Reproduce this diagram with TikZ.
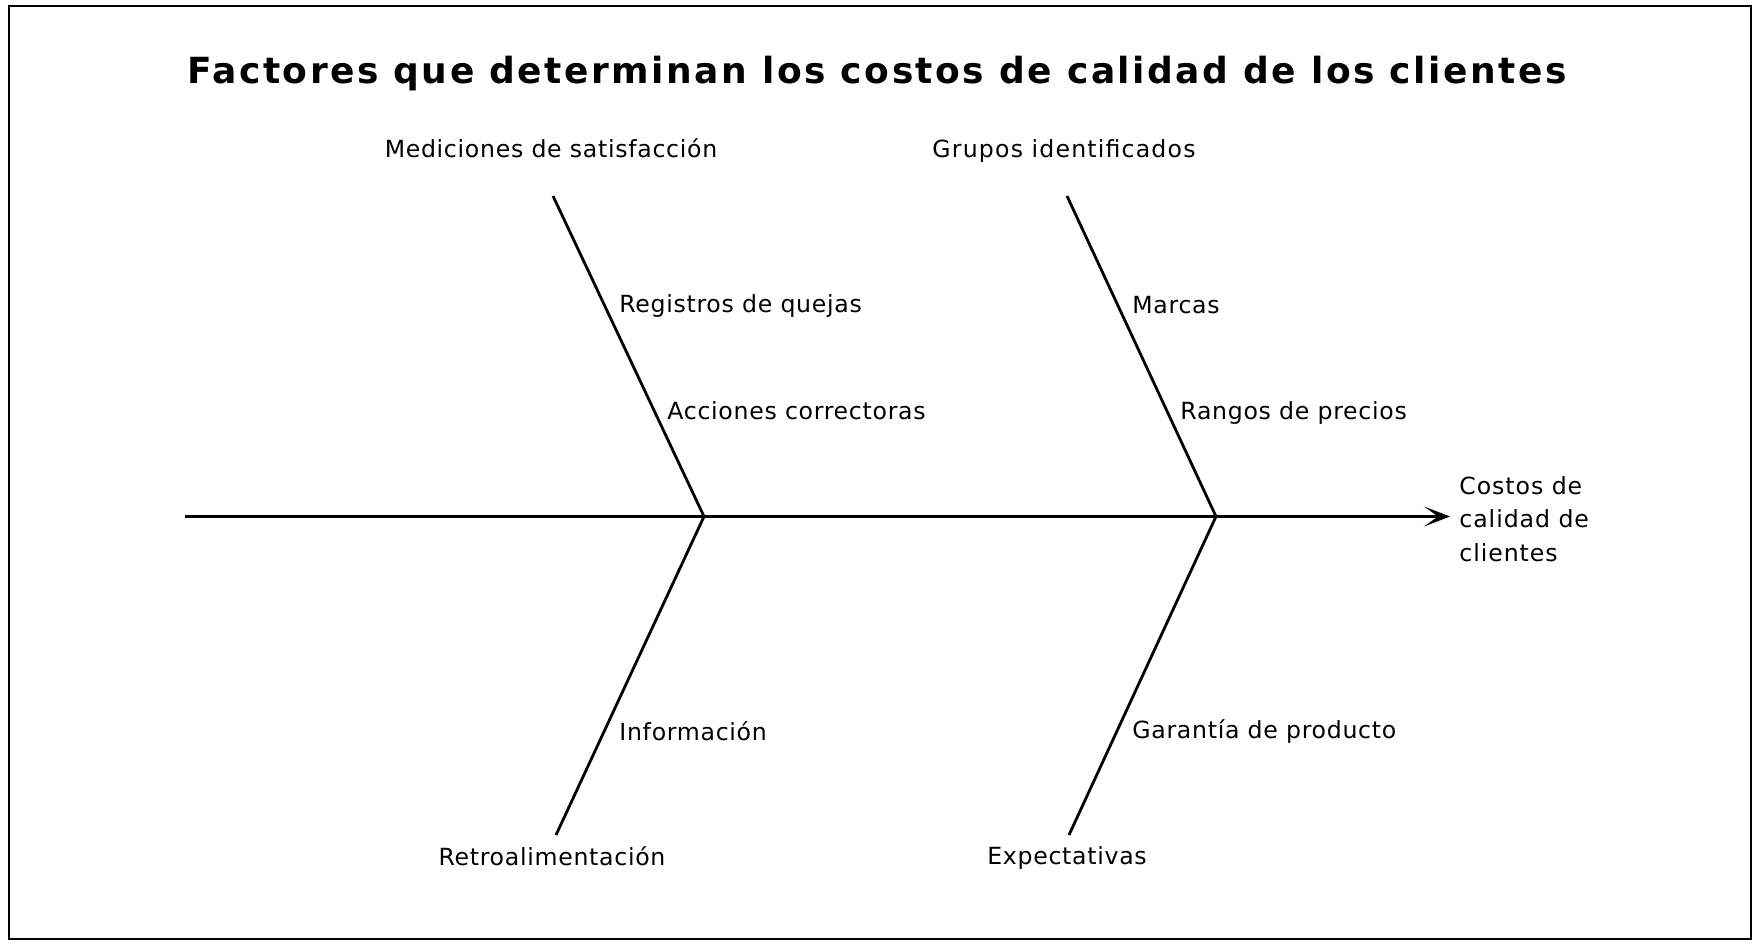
\documentclass[tikz,border=0pt]{standalone}
\usepackage{fontspec}
\setmainfont{DejaVu Sans}
\usetikzlibrary{arrows.meta}
\tikzset{
  bone/.style={line width=1.4pt, black},
  spine/.style={line width=1.1pt, black, -{Stealth[length=13pt,width=10pt,inset=7pt]}},
  lbl/.style={font=\fontsize{11.8}{14}\selectfont\addfontfeature{LetterSpace=3}, inner sep=0pt},
  ttl/.style={font=\fontsize{18}{21}\bfseries\selectfont\addfontfeature{LetterSpace=7}, inner sep=0pt}
}
\begin{document}
\begin{tikzpicture}[x=0.5pt,y=-0.5pt]
\useasboundingbox[fill=white] (0,0) rectangle (1757,945);
\draw[line width=1pt] (9,6) rectangle (1751,939);
\node[ttl] (title) at (877,74) {Factores que determinan los costos de calidad de los clientes};
% coordinates
\coordinate (s0) at (185,516.5);
\coordinate (j1) at (704,516.5);
\coordinate (j2) at (1216,516.5);
\coordinate (u1) at (553,196);
\coordinate (u2) at (1067,196);
\coordinate (d1) at (556,835);
\coordinate (d2) at (1069,835);
\node[lbl, anchor=west, align=left, font=\fontsize{11.8}{16.8}\selectfont\addfontfeature{LetterSpace=4}] (eff) at (1459,519) {Costos de\\calidad de\\clientes};
\draw[spine, shorten >=4.5pt] (s0) -- (s0 -| eff.west);
\draw[bone] (u1) -- (j1) -- (d1);
\draw[bone] (u2) -- (j2) -- (d2);
% category labels
\node[lbl] (c1) at (551,148) {Mediciones de satisfacción};
\node[lbl, font=\fontsize{11.8}{14}\selectfont\addfontfeature{LetterSpace=5}] (c2) at (1064,151) {Grupos identificados};
\node[lbl] (c3) at (552,856) {Retroalimentación};
\node[lbl] (c4) at (1067,858) {Expectativas};
% causes
\node[lbl, anchor=west] (a1) at (619,306) {Registros de quejas};
\node[lbl, anchor=west] (a2) at (667,411) {Acciones correctoras};
\node[lbl, anchor=west] (b1) at (1132,305) {Marcas};
\node[lbl, anchor=west] (b2) at (1180,413) {Rangos de precios};
\node[lbl, anchor=west] (a3) at (619,731) {Información};
\node[lbl, anchor=west] (b3) at (1132,732) {Garantía de producto};
\end{tikzpicture}
\end{document}
